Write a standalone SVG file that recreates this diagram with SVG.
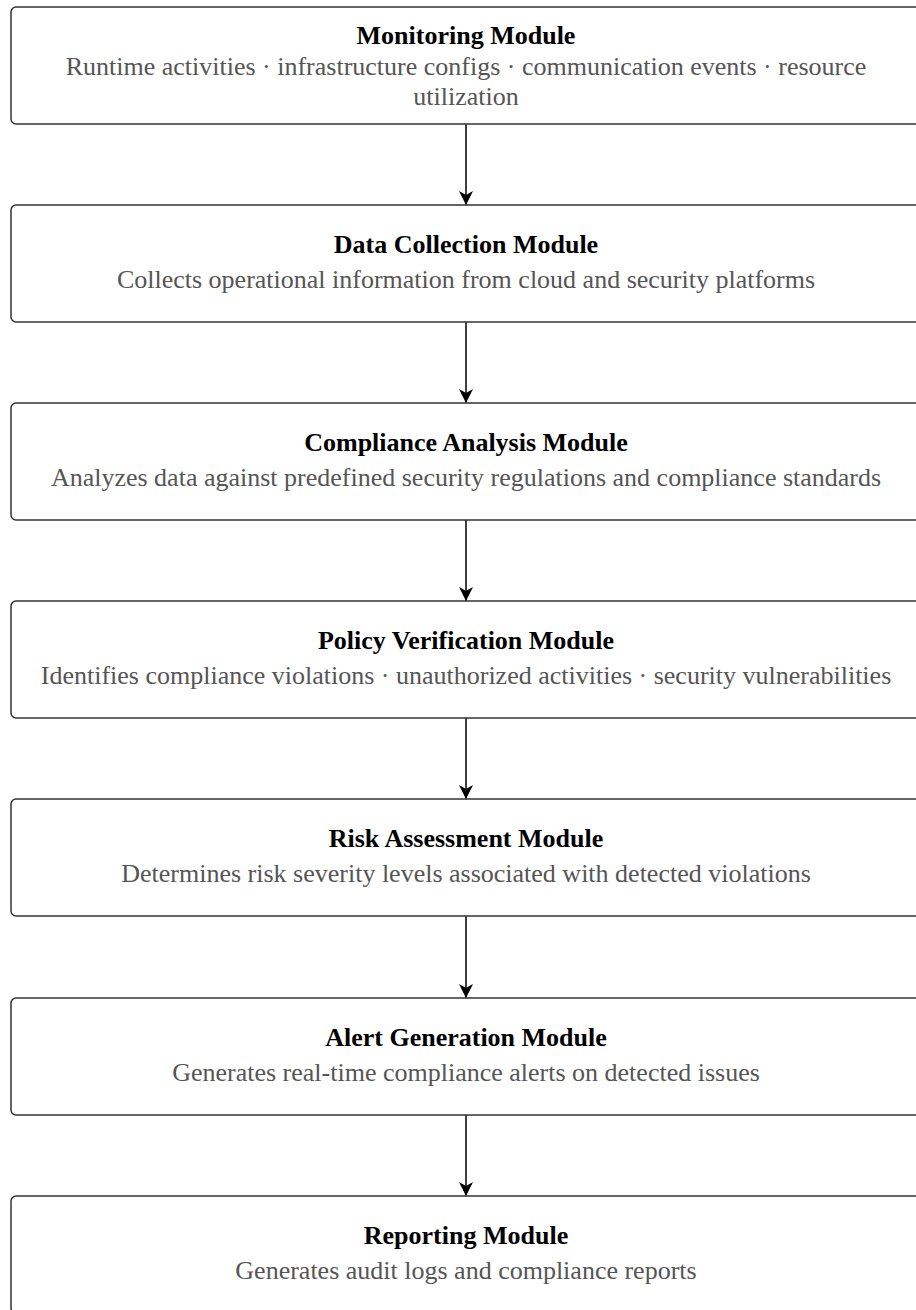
<svg xmlns="http://www.w3.org/2000/svg" width="916" height="1310" viewBox="0 0 916 1310">
<style>
.box{fill:#fff;stroke:#333;stroke-width:1.5}
.t{font-family:"Liberation Serif","Times New Roman",serif;font-weight:bold;font-size:26px;fill:#000;text-anchor:middle}
.s{font-family:"Liberation Serif","Times New Roman",serif;font-size:26px;fill:#555;text-anchor:middle}
.edge{stroke:#000;stroke-width:1.5;fill:none}
</style>
<defs>
<marker id="arr" markerWidth="14" markerHeight="16" refX="14" refY="7" orient="auto" markerUnits="userSpaceOnUse">
<path d="M0,0 L14,7 L0,14 L4,7 Z" fill="#000"/>
</marker>
</defs>
<rect width="916" height="1310" fill="#fff"/>
<g id="connectors">
<line class="edge" x1="466" y1="124" x2="466" y2="205" marker-end="url(#arr)"/>
<line class="edge" x1="466" y1="322" x2="466" y2="403" marker-end="url(#arr)"/>
<line class="edge" x1="466" y1="520" x2="466" y2="601" marker-end="url(#arr)"/>
<line class="edge" x1="466" y1="718" x2="466" y2="799" marker-end="url(#arr)"/>
<line class="edge" x1="466" y1="916" x2="466" y2="998" marker-end="url(#arr)"/>
<line class="edge" x1="466" y1="1115" x2="466" y2="1196" marker-end="url(#arr)"/>
</g>
<g id="monitoring">
<rect class="box" x="11" y="7" width="910" height="117" rx="5"/>
<text class="t" x="466" y="44">Monitoring Module</text>
<text class="s" x="466" y="75">Runtime activities · infrastructure configs · communication events · resource</text>
<text class="s" x="466" y="105">utilization</text>
</g>
<g id="data-collection">
<rect class="box" x="11" y="205" width="910" height="117" rx="5"/>
<text class="t" x="466" y="253">Data Collection Module</text>
<text class="s" x="466" y="288">Collects operational information from cloud and security platforms</text>
</g>
<g id="compliance-analysis">
<rect class="box" x="11" y="403" width="910" height="117" rx="5"/>
<text class="t" x="466" y="451">Compliance Analysis Module</text>
<text class="s" x="466" y="486">Analyzes data against predefined security regulations and compliance standards</text>
</g>
<g id="policy-verification">
<rect class="box" x="11" y="601" width="910" height="117" rx="5"/>
<text class="t" x="466" y="649">Policy Verification Module</text>
<text class="s" x="466" y="684">Identifies compliance violations · unauthorized activities · security vulnerabilities</text>
</g>
<g id="risk-assessment">
<rect class="box" x="11" y="799" width="910" height="117" rx="5"/>
<text class="t" x="466" y="847">Risk Assessment Module</text>
<text class="s" x="466" y="882">Determines risk severity levels associated with detected violations</text>
</g>
<g id="alert-generation">
<rect class="box" x="11" y="998" width="910" height="117" rx="5"/>
<text class="t" x="466" y="1046">Alert Generation Module</text>
<text class="s" x="466" y="1081">Generates real-time compliance alerts on detected issues</text>
</g>
<g id="reporting">
<rect class="box" x="11" y="1196" width="910" height="117" rx="5"/>
<text class="t" x="466" y="1244">Reporting Module</text>
<text class="s" x="466" y="1279">Generates audit logs and compliance reports</text>
</g>
</svg>
